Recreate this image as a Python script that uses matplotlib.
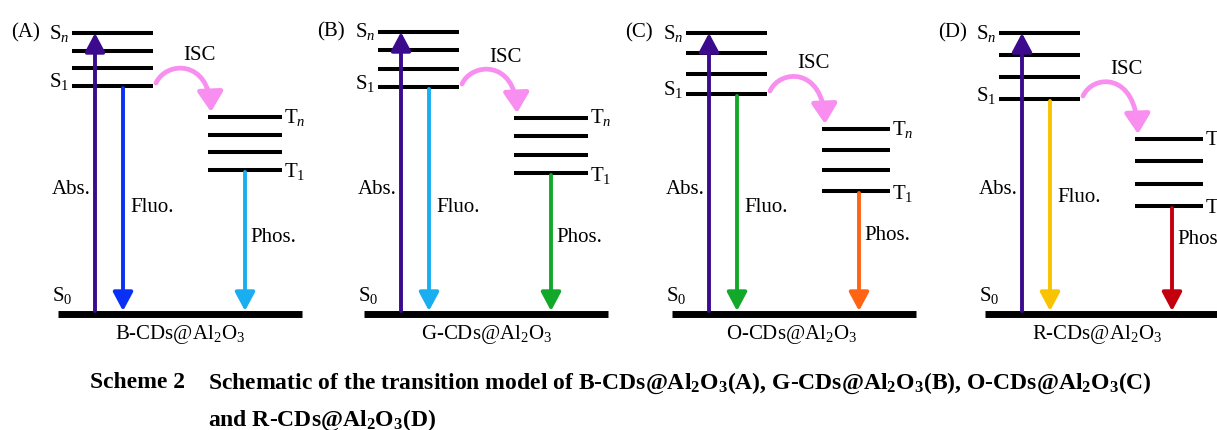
import numpy as np
import matplotlib
matplotlib.use('Agg')
import matplotlib.pyplot as plt
from matplotlib.patches import FancyArrowPatch
from matplotlib.path import Path

plt.rcParams['font.family'] = 'Liberation Serif'
plt.rcParams['mathtext.fontset'] = 'custom'
plt.rcParams['mathtext.rm'] = 'Liberation Serif'
plt.rcParams['mathtext.it'] = 'Liberation Serif:italic'
plt.rcParams['mathtext.bf'] = 'Liberation Serif:bold'

# panels
panel_tags = ['(A)', '(B)', '(C)', '(D)']
samples = ['B-CDs', 'G-CDs', 'O-CDs', 'R-CDs']
fluo_colors = ['#0a30f5', '#19aef0', '#12a82a', '#f9c300']
phos_colors = ['#19aef0', '#12a82a', '#ff6414', '#c4000e']
abs_color = '#3c0a8c'
isc_color = '#f78ef0'

# energy levels (pixel rows): S_n, S_1, T_n, T_1
s_top = [33, 32, 33, 33]
s_one = [86, 87, 94, 99]
t_top = [117, 118, 129, 139]
t_one = [170, 173, 191, 206]
ground = 314

# horizontal layout of each panel
x_off = [0, 306, 614, 927]
t_right = [282, 282, 276, 276]
label_dx = [180, 181, 178, 170]
fluo_ty = [208, 208, 208, 197]
phos_ty = [237, 237, 235, 240]

fig = plt.figure(figsize=(12.17, 4.30), dpi=100)
ax = fig.add_axes([0, 0, 1, 1])
ax.set_xlim(0, 1217)
ax.set_ylim(430, 0)
ax.axis('off')

FS = 15
head = '-|>,head_length=0.45,head_width=0.24'


def arrow(x, y1, y2, c):
    ax.annotate('', xy=(x, y2), xytext=(x, y1),
                arrowprops=dict(arrowstyle=head, color=c, lw=2.8,
                                mutation_scale=25, shrinkA=0, shrinkB=0))


for i in range(4):
    x0 = x_off[i]
    s_lv = np.linspace(s_top[i], s_one[i], 4)
    t_lv = np.linspace(t_top[i], t_one[i], 4)
    for y in s_lv:
        ax.plot([x0 + 72, x0 + 153], [y, y], color='black', lw=2.9, solid_capstyle='butt')
    for y in t_lv:
        ax.plot([x0 + 208, x0 + t_right[i]], [y, y], color='black', lw=2.9, solid_capstyle='butt')
    ax.plot([x0 + 58, x0 + 302], [ground, ground], color='black', lw=5, solid_capstyle='butt')

    # transitions
    arrow(x0 + 95, ground - 3, s_top[i], abs_color)
    arrow(x0 + 123, s_one[i] + 2, ground - 3, fluo_colors[i])
    arrow(x0 + 245, t_one[i] + 2, ground - 3, phos_colors[i])

    # ISC curve
    sx, ex = x0 + 156, x0 + 211
    verts = [(sx, s_one[i] - 3), (sx + 10, s_one[i] - 25),
             (ex - 2, s_one[i] - 27), (ex, t_top[i] - 5)]
    p = Path(verts, [Path.MOVETO, Path.CURVE4, Path.CURVE4, Path.CURVE4])
    ax.add_patch(FancyArrowPatch(path=p, arrowstyle='-|>,head_length=0.55,head_width=0.35',
                                 mutation_scale=22, color=isc_color, lw=3.4))

    # labels
    ax.text(x0 + 11, s_top[i], panel_tags[i], fontsize=FS, ha='left', va='center')
    ax.text(x0 + 69, s_top[i], 'S$_n$', fontsize=FS, ha='right', va='center')
    ax.text(x0 + 69, s_one[i] - 4, 'S$_1$', fontsize=FS, ha='right', va='center')
    ax.text(x0 + 52, 296, 'S$_0$', fontsize=FS, ha='left', va='center')
    ax.text(x0 + 91, 190, 'Abs.', fontsize=FS, ha='right', va='center')
    ax.text(x0 + 130, fluo_ty[i], 'Fluo.', fontsize=FS, ha='left', va='center')
    ax.text(x0 + 250, phos_ty[i], 'Phos.', fontsize=FS, ha='left', va='center')
    ax.text(x0 + t_right[i] + 2, t_top[i], 'T$_n$', fontsize=FS, ha='left', va='center')
    ax.text(x0 + t_right[i] + 2, t_one[i] + 2, 'T$_1$', fontsize=FS, ha='left', va='center')
    ax.text(x0 + 199, s_one[i] - 30, 'ISC', fontsize=FS, ha='center', va='center')
    ax.text(x0 + label_dx[i], 334, samples[i] + '@Al$_2$O$_3$', fontsize=FS,
            ha='center', va='center')

# caption
CFS = 17
ax.text(90, 383, 'Scheme 2', fontsize=CFS, weight='bold', ha='left', va='center')
ax.text(208, 383, 'Schematic of the transition model of ' +
        ', '.join(s + r'@Al$_\mathbf{2}$O$_\mathbf{3}$' + t for s, t in zip(samples[:3], panel_tags[:3])),
        fontsize=CFS, weight='bold', ha='left', va='center')
ax.text(208, 420, 'and ' + samples[3] + r'@Al$_\mathbf{2}$O$_\mathbf{3}$' + panel_tags[3],
        fontsize=CFS, weight='bold', ha='left', va='center')

fig.savefig('out.png', dpi=100)
